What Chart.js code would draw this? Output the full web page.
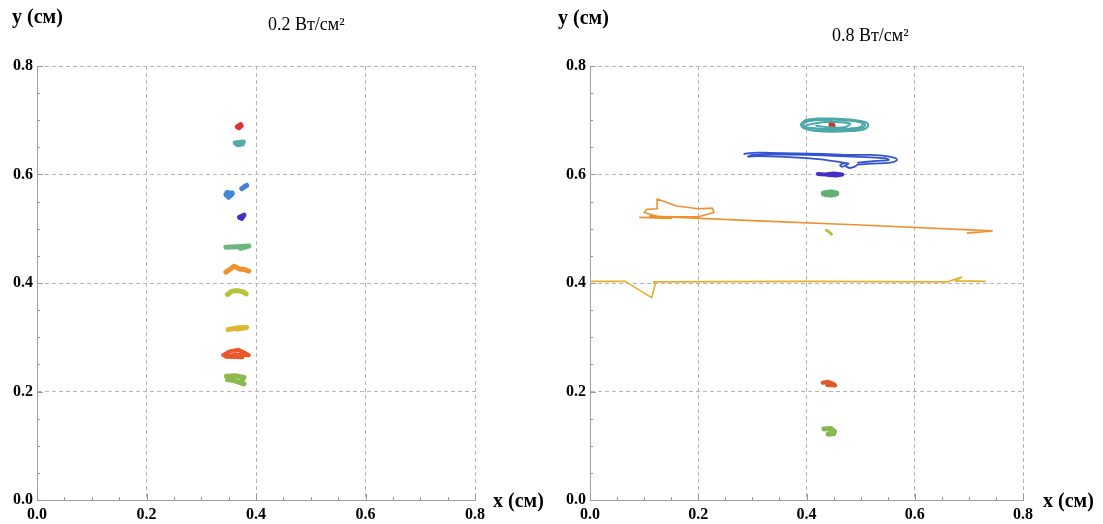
<!DOCTYPE html>
<html>
<head>
<meta charset="utf-8">
<script src="https://cdn.jsdelivr.net/npm/chart.js@4.4.1/dist/chart.umd.min.js"></script>
<style>
body{margin:0;background:#fff;width:1103px;height:524px;overflow:hidden;position:relative;font-family:"Liberation Serif",serif}
.box{position:absolute;top:0;height:524px}
.lbl{position:absolute;white-space:nowrap;color:#000;line-height:1}
.ax{font-weight:bold;font-size:20px}
.ttl{font-size:18px}
</style>
</head>
<body>
<div class="box" style="left:0;width:551px"><canvas id="c1"></canvas></div>
<div class="box" style="left:551px;width:552px"><canvas id="c2"></canvas></div>
<div class="lbl ax" style="left:12px;top:6px">y (см)</div>
<div class="lbl ttl" style="left:268px;top:15px">0.2 Вт/см²</div>
<div class="lbl ax" style="left:493px;top:490px">x (см)</div>
<div class="lbl ax" style="left:558px;top:7px">y (см)</div>
<div class="lbl ttl" style="left:832px;top:26px">0.8 Вт/см²</div>
<div class="lbl ax" style="left:1043px;top:490px">x (см)</div>
<script>
// axis ticks
var tickVals = [0, 0.2, 0.4, 0.6, 0.8];

// left panel, 0.2 W/cm2 : short trajectories [x, y]
var L_red    = [[0.366,0.688],[0.372,0.692],[0.369,0.686],[0.373,0.690]];
var L_teal   = [[0.362,0.658],[0.377,0.660],[0.366,0.655],[0.375,0.656]];
var L_blue1  = [[0.374,0.574],[0.383,0.580],[0.378,0.577]];
var L_blue2  = [[0.346,0.563],[0.356,0.565],[0.350,0.559],[0.348,0.566]];
var L_indigo = [[0.370,0.521],[0.378,0.525],[0.374,0.519]];
var L_green  = [[0.345,0.466],[0.365,0.467],[0.387,0.468],[0.372,0.464]];
var L_orange = [[0.345,0.420],[0.352,0.425],[0.360,0.431],[0.370,0.426],[0.378,0.425],[0.387,0.422]];
var L_olive  = [[0.348,0.379],[0.356,0.385],[0.366,0.386],[0.376,0.384],[0.382,0.380]];
var L_gold   = [[0.349,0.314],[0.365,0.317],[0.383,0.318],[0.366,0.315]];
var L_redor  = [[0.340,0.267],[0.352,0.274],[0.368,0.277],[0.380,0.271],[0.387,0.267],[0.362,0.268],[0.345,0.264],[0.375,0.263]];
var L_lgreen = [[0.346,0.228],[0.362,0.229],[0.378,0.226],[0.372,0.218],[0.378,0.214],[0.360,0.220],[0.348,0.222]];

// right panel, 0.8 W/cm2
var R_teal = [[0.390,0.693],[0.398,0.700],[0.420,0.703],[0.450,0.703],[0.485,0.701],[0.510,0.696],[0.514,0.690],[0.505,0.683],
  [0.480,0.680],[0.450,0.679],[0.420,0.680],[0.398,0.684],[0.390,0.691],[0.396,0.696],[0.415,0.700],[0.450,0.701],[0.490,0.698],
  [0.508,0.692],[0.500,0.685],[0.470,0.682],[0.440,0.682],[0.410,0.685],[0.394,0.690],[0.400,0.697],[0.430,0.701],[0.470,0.700],
  [0.503,0.695],[0.498,0.687],[0.460,0.684],[0.420,0.685],[0.398,0.689],[0.420,0.695],[0.450,0.697],[0.480,0.694],[0.470,0.687],
  [0.440,0.687],[0.418,0.690]];
var R_red = [[0.444,0.685],[0.449,0.691],[0.445,0.693],[0.450,0.686],[0.446,0.689]];
var R_blue = [[0.285,0.638],[0.300,0.640],[0.330,0.640],[0.380,0.639],[0.430,0.638],[0.480,0.636],[0.520,0.636],[0.548,0.634],
  [0.565,0.630],[0.567,0.626],[0.555,0.622],[0.520,0.620],[0.495,0.618],[0.488,0.614],[0.480,0.612],[0.472,0.616],[0.478,0.620],
  [0.470,0.621],[0.462,0.617],[0.466,0.614],[0.475,0.620],[0.440,0.626],[0.400,0.630],[0.350,0.633],[0.310,0.634],[0.292,0.633],
  [0.300,0.636],[0.340,0.637],[0.400,0.636],[0.460,0.634],[0.510,0.632],[0.545,0.630],[0.552,0.627],[0.530,0.625],[0.495,0.622]];
var R_indigo = [[0.421,0.601],[0.435,0.600],[0.450,0.602],[0.466,0.600],[0.455,0.598],[0.440,0.599]];
var R_green  = [[0.432,0.565],[0.445,0.567],[0.455,0.565],[0.445,0.563],[0.435,0.564]];
var R_orange = [[0.092,0.521],[0.150,0.519],[0.120,0.524],[0.100,0.530],[0.105,0.536],[0.125,0.537],[0.124,0.555],[0.160,0.542],
  [0.200,0.537],[0.226,0.538],[0.229,0.530],[0.200,0.522],[0.160,0.522],[0.110,0.523],[0.300,0.515],[0.500,0.507],[0.743,0.496],[0.697,0.492]];
var R_olive  = [[0.437,0.497],[0.442,0.494],[0.446,0.490]];
var R_yellow = [[0.003,0.403],[0.065,0.403],[0.114,0.373],[0.120,0.396],[0.118,0.402],[0.400,0.403],[0.660,0.402],[0.687,0.411],
  [0.675,0.404],[0.730,0.403]];
var R_redor  = [[0.430,0.216],[0.440,0.218],[0.450,0.214],[0.453,0.211],[0.438,0.212]];
var R_lgreen = [[0.432,0.131],[0.445,0.132],[0.452,0.126],[0.440,0.121],[0.450,0.122]];

var leftSeries = [
  {pts:L_red, color:'#dd3333', w:5},
  {pts:L_teal, color:'#55aaaa', w:5},
  {pts:L_blue1, color:'#4a7fd6', w:5},
  {pts:L_blue2, color:'#3f86d4', w:6},
  {pts:L_indigo, color:'#4a2fc0', w:5},
  {pts:L_green, color:'#6bb57f', w:5},
  {pts:L_orange, color:'#f0922e', w:5},
  {pts:L_olive, color:'#b5c23a', w:5},
  {pts:L_gold, color:'#dcb531', w:5},
  {pts:L_redor, color:'#e8582a', w:4},
  {pts:L_lgreen, color:'#8bbb4f', w:5}
];
var rightSeries = [
  {pts:R_teal, color:'#4aa8a8', w:2, t:0.4},
  {pts:R_red, color:'#d83030', w:5},
  {pts:R_blue, color:'#3555d0', w:1.8, t:0.3},
  {pts:R_indigo, color:'#4a2cc4', w:4},
  {pts:R_green, color:'#62b077', w:6},
  {pts:R_orange, color:'#ee9030', w:1.6},
  {pts:R_olive, color:'#b8c040', w:3},
  {pts:R_yellow, color:'#e0b030', w:1.6},
  {pts:R_redor, color:'#e05a28', w:4},
  {pts:R_lgreen, color:'#88b850', w:5}
];

// small inner ticks on the bottom and left axes
const minorTicks = {
  id: 'minorTicks',
  afterDraw(chart){
    const ctx = chart.ctx, xs = chart.scales.x, ys = chart.scales.y, a = chart.chartArea;
    ctx.save();
    ctx.strokeStyle = '#999';
    ctx.lineWidth = 1;
    for (let k = 0; k <= 16; k++){
      const v = k * 0.05, len = (k % 4 === 0) ? 6 : 3;
      const px = Math.round(xs.getPixelForValue(v)) + 0.5;
      ctx.beginPath(); ctx.moveTo(px, a.bottom); ctx.lineTo(px, a.bottom - len); ctx.stroke();
      const py = Math.round(ys.getPixelForValue(v)) + 0.5;
      ctx.beginPath(); ctx.moveTo(a.left, py); ctx.lineTo(a.left + len, py); ctx.stroke();
    }
    ctx.restore();
  }
};

function axisOpts(){
  return {
    type: 'linear', min: 0, max: 0.8,
    afterBuildTicks: s => { s.ticks = tickVals.map(v => ({value: v})); },
    ticks: { callback: v => v.toFixed(1), color: '#000', maxRotation: 0,
             font: {family: 'Liberation Serif', size: 16, weight: 'bold'} },
    grid: { color: '#b4b4b4', drawTicks: false },
    border: { color: '#a0a0a0', width: 1, dash: [4, 3] }
  };
}

function makeChart(id, series, yWidth, padRight){
  const x = axisOpts(), y = axisOpts();
  x.afterFit = s => { s.height = 24; };
  x.ticks.padding = 5;
  y.afterFit = s => { s.width = yWidth; };
  y.ticks.padding = 4;
  return new Chart(document.getElementById(id), {
    type: 'scatter',
    data: { datasets: series.map(s => ({
      data: s.pts.map(p => ({x: p[0], y: p[1]})),
      borderColor: s.color, backgroundColor: s.color, borderWidth: s.w,
      showLine: true, pointRadius: 0, tension: s.t || 0,
      borderCapStyle: 'round', borderJoinStyle: 'round'
    })) },
    options: {
      responsive: true, maintainAspectRatio: false, animation: false,
      layout: { padding: {left: 0, top: 66, right: padRight, bottom: 0} },
      plugins: { legend: {display: false}, tooltip: {enabled: false} },
      scales: { x: x, y: y }
    },
    plugins: [minorTicks]
  });
}

makeChart('c1', leftSeries, 37, 76);
makeChart('c2', rightSeries, 39, 80);
</script>
</body>
</html>
